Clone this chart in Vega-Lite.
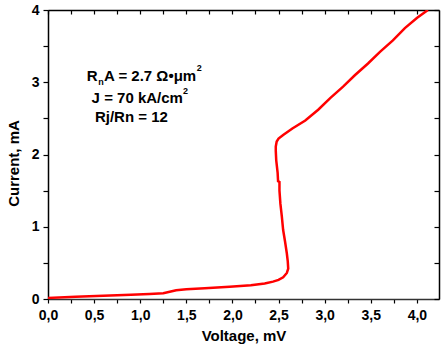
{
  "$schema": "https://vega.github.io/schema/vega-lite/v6.json",
  "width": 391,
  "height": 289,
  "autosize": {"type": "none"},
  "padding": {"left": 48, "top": 10, "right": 2, "bottom": 57},
  "background": "white",
  "config": {
    "view": {"stroke": null},
    "font": "Liberation Sans",
    "axis": {
      "domainColor": "black",
      "domainWidth": 1.5,
      "tickColor": "black",
      "tickWidth": 1.2,
      "grid": false,
      "labelFont": "Liberation Sans",
      "labelFontWeight": "bold",
      "labelFontSize": 14,
      "labelColor": "black",
      "titleFont": "Liberation Sans",
      "titleFontWeight": "bold",
      "titleFontSize": 15,
      "titleColor": "black",
      "labelOverlap": false,
      "labelFlush": false
    }
  },
  "datasets": {
    "iv": [
      {"v": 0.0, "i": 0.015}, {"v": 0.3, "i": 0.03}, {"v": 0.6, "i": 0.045},
      {"v": 0.9, "i": 0.06}, {"v": 1.1, "i": 0.07}, {"v": 1.25, "i": 0.08},
      {"v": 1.32, "i": 0.1}, {"v": 1.39, "i": 0.122}, {"v": 1.5, "i": 0.135},
      {"v": 1.7, "i": 0.15}, {"v": 1.97, "i": 0.17}, {"v": 2.2, "i": 0.19},
      {"v": 2.35, "i": 0.215}, {"v": 2.44, "i": 0.24}, {"v": 2.5, "i": 0.265},
      {"v": 2.55, "i": 0.3}, {"v": 2.59, "i": 0.36}, {"v": 2.605, "i": 0.42},
      {"v": 2.6, "i": 0.52}, {"v": 2.59, "i": 0.63}, {"v": 2.57, "i": 0.8},
      {"v": 2.55, "i": 0.955}, {"v": 2.535, "i": 1.15}, {"v": 2.52, "i": 1.32},
      {"v": 2.51, "i": 1.5}, {"v": 2.51, "i": 1.62}, {"v": 2.495, "i": 1.63},
      {"v": 2.49, "i": 1.75}, {"v": 2.475, "i": 1.92}, {"v": 2.47, "i": 2.05},
      {"v": 2.47, "i": 2.11}, {"v": 2.48, "i": 2.18}, {"v": 2.5, "i": 2.22},
      {"v": 2.55, "i": 2.27}, {"v": 2.65, "i": 2.36}, {"v": 2.79, "i": 2.47},
      {"v": 2.93, "i": 2.62}, {"v": 3.06, "i": 2.78}, {"v": 3.2, "i": 2.94},
      {"v": 3.33, "i": 3.1}, {"v": 3.47, "i": 3.26}, {"v": 3.6, "i": 3.42},
      {"v": 3.74, "i": 3.58}, {"v": 3.87, "i": 3.75}, {"v": 4.0, "i": 3.89},
      {"v": 4.12, "i": 4.0}
    ],
    "big": [
      {"v": 0.42, "i": 3.022, "t": "R"},
      {"v": 0.607, "i": 3.022, "t": "A = 2.7 Ω•μm"},
      {"v": 0.473, "i": 2.709, "t": "J = 70 kA/cm"},
      {"v": 0.509, "i": 2.454, "t": "Rj/Rn = 12"}
    ],
    "small": [
      {"v": 0.545, "i": 2.962, "t": "n"},
      {"v": 1.612, "i": 3.15, "t": "2"},
      {"v": 1.465, "i": 2.84, "t": "2"}
    ]
  },
  "resolve": {"axis": {"x": "independent", "y": "independent"}},
  "layer": [
    {
      "data": {"name": "iv"},
      "mark": {"type": "line", "color": "#ff0000", "strokeWidth": 2.5, "clip": true},
      "encoding": {
        "x": {
          "field": "v", "type": "quantitative",
          "scale": {"domain": [0, 4.24], "nice": false, "zero": false},
          "axis": {
            "orient": "bottom",
            "title": "Voltage, mV",
            "titlePadding": 6,
            "values": [0, 0.25, 0.5, 0.75, 1, 1.25, 1.5, 1.75, 2, 2.25, 2.5, 2.75, 3, 3.25, 3.5, 3.75, 4],
            "labelExpr": "datum.value % 0.5 == 0 ? replace(format(datum.value, '.1f'), '.', ',') : ''",
            "tickSize": 4,
            "labelPadding": 5,
            "domainColor": "#333333"
          }
        },
        "y": {
          "field": "i", "type": "quantitative",
          "scale": {"domain": [0, 4], "nice": false, "zero": false},
          "axis": {
            "orient": "left",
            "title": "Current, mA",
            "titleY": 153,
            "titlePadding": 10,
            "values": [0, 0.5, 1, 1.5, 2, 2.5, 3, 3.5, 4],
            "labelExpr": "datum.value % 1 == 0 ? format(datum.value, 'd') : ''",
            "tickSize": 5,
            "labelPadding": 4
          }
        },
        "order": {"value": null}
      }
    },
    {
      "data": {"name": "big"},
      "mark": {"type": "text", "align": "left", "baseline": "alphabetic", "fontSize": 15, "fontWeight": "bold", "font": "Liberation Sans", "color": "black"},
      "encoding": {
        "x": {
          "field": "v", "type": "quantitative",
          "axis": {
            "orient": "top", "title": null, "labels": false,
            "values": [0, 0.25, 0.5, 0.75, 1, 1.25, 1.5, 1.75, 2, 2.25, 2.5, 2.75, 3, 3.25, 3.5, 3.75, 4],
            "tickSize": -4
          }
        },
        "y": {
          "field": "i", "type": "quantitative",
          "axis": {
            "orient": "right", "title": null, "labels": false,
            "values": [0, 0.5, 1, 1.5, 2, 2.5, 3, 3.5, 4],
            "tickSize": -5
          }
        },
        "text": {"field": "t"}
      }
    },
    {
      "data": {"name": "small"},
      "mark": {"type": "text", "align": "left", "baseline": "alphabetic", "fontSize": 9, "fontWeight": "bold", "font": "Liberation Sans", "color": "black"},
      "encoding": {
        "x": {"field": "v", "type": "quantitative", "axis": null},
        "y": {"field": "i", "type": "quantitative", "axis": null},
        "text": {"field": "t"}
      }
    }
  ]
}
